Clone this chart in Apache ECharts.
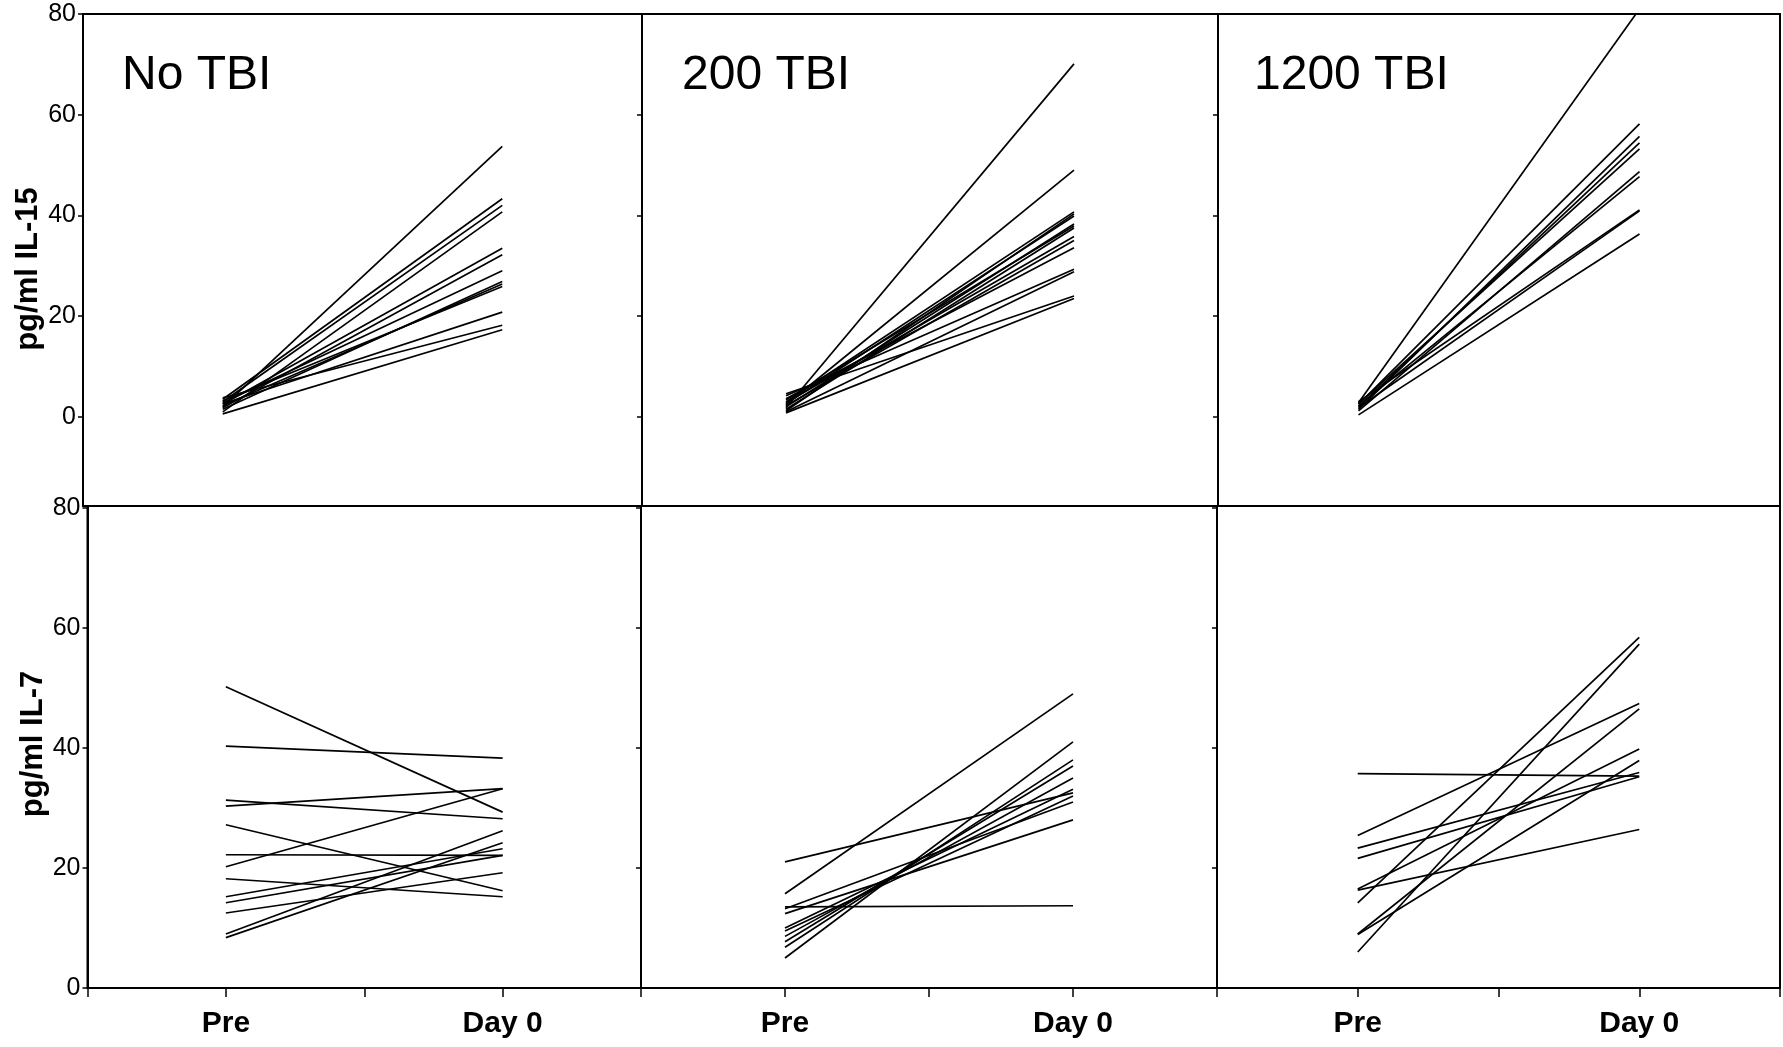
<!DOCTYPE html>
<html>
<head>
<meta charset="utf-8">
<script src="https://cdn.jsdelivr.net/npm/echarts@6/dist/echarts.min.js"></script>
<style>
  html, body { margin: 0; padding: 0; background: #fff; }
  #chart { width: 1783px; height: 1047px; }
</style>
</head>
<body>
<div id="chart"></div>
<script>
// ---- data ----
const xLabels = ['', 'Pre', '', 'Day 0', ''];
const groupTitles = ['No TBI', '200 TBI', '1200 TBI'];
const yTitles = ['pg/ml IL-15', 'pg/ml IL-7'];
const yTicks = [0, 20, 40, 60, 80];

// IL-15, No TBI
const il15NoPre  = [2.0, 3.5, 3.0, 1.0, 2.5, 1.8, 2.8, 1.5, 2.2, 3.2, 2.6, 3.8, 0.6];
const il15NoDay0 = [53.7, 43.3, 42.0, 40.7, 33.5, 32.2, 29.0, 26.9, 26.4, 25.9, 20.8, 18.2, 17.3];
// IL-15, 200 TBI
const il15T200Pre  = [1.8, 2.4, 3.0, 1.2, 2.6, 2.0, 3.4, 1.5, 2.8, 2.2, 3.6, 4.2, 1.0, 4.6, 0.8];
const il15T200Day0 = [70.1, 49.0, 40.7, 40.3, 39.9, 38.3, 37.9, 37.5, 35.8, 35.0, 33.6, 29.3, 28.8, 24.0, 23.5];
// IL-15, 1200 TBI
const il15T1200Pre  = [2.8, 2.5, 1.5, 2.0, 2.6, 1.2, 2.2, 3.0, 1.8, 0.4];
const il15T1200Day0 = [81.0, 58.2, 55.7, 54.4, 53.2, 48.7, 47.7, 41.1, 40.9, 36.3];
// IL-7, No TBI
const il7NoPre  = [50.2, 40.3, 31.3, 30.3, 27.2, 20.2, 22.2, 18.2, 15.2, 14.2, 12.5, 9.0, 8.4];
const il7NoDay0 = [29.3, 38.3, 28.2, 33.2, 16.2, 33.2, 22.1, 15.2, 23.2, 22.1, 19.2, 26.2, 24.2];
// IL-7, 200 TBI
const il7T200Pre  = [15.7, 21.0, 13.5, 12.4, 13.2, 10.0, 9.5, 8.6, 7.7, 6.8, 5.0];
const il7T200Day0 = [49.0, 32.5, 13.7, 28.0, 31.0, 33.1, 32.0, 35.0, 37.0, 38.0, 41.0];
// IL-7, 1200 TBI
const il7T1200Pre  = [35.7, 25.4, 23.3, 21.6, 16.5, 16.3, 14.2, 9.0, 8.9, 6.0];
const il7T1200Day0 = [35.3, 47.4, 35.9, 35.2, 39.8, 26.4, 58.4, 46.5, 37.9, 57.3];

const panels = [
  { pre: il15NoPre,    day0: il15NoDay0 },
  { pre: il15T200Pre,  day0: il15T200Day0 },
  { pre: il15T1200Pre, day0: il15T1200Day0 },
  { pre: il7NoPre,     day0: il7NoDay0 },
  { pre: il7T200Pre,   day0: il7T200Day0 },
  { pre: il7T1200Pre,  day0: il7T1200Day0 }
];

// ---- layout ----
const colEdgesByRow = [[83, 642, 1218, 1780], [87.5, 641, 1217, 1780]];
const rowEdges = [14, 506, 988];
const FONT = '"Liberation Sans", Arial, Helvetica, sans-serif';

const grids = [], xAxes = [], yAxes = [], series = [];
for (let r = 0; r < 2; r++) {
  const colEdges = colEdgesByRow[r];
  for (let c = 0; c < 3; c++) {
    const i = r * 3 + c;
    grids.push({
      left: colEdges[c], width: colEdges[c + 1] - colEdges[c],
      top: rowEdges[r], height: rowEdges[r + 1] - rowEdges[r],
      show: true, borderColor: '#000', borderWidth: 2, backgroundColor: 'transparent'
    });
    xAxes.push({
      type: 'value', gridIndex: i, min: 0, max: 4, interval: 1,
      axisLine: { show: true, onZero: false, lineStyle: { color: '#000', width: 2 } },
      axisTick: { show: r === 1, inside: false, length: 9, lineStyle: { color: '#000', width: 1.5 } },
      axisLabel: {
        show: r === 1, margin: 21, color: '#000', fontFamily: FONT, fontSize: 30, fontWeight: 'bold',
        formatter: v => xLabels[Math.round(v)] || ''
      },
      splitLine: { show: false }
    });
    yAxes.push({
      type: 'value', gridIndex: i,
      min: r === 0 ? -17.7 : 0, max: r === 0 ? 80 : 80.3,
      axisLine: { show: true, onZero: false, lineStyle: { color: '#000', width: 2 } },
      axisTick: { show: true, inside: false, length: 5, customValues: yTicks, lineStyle: { color: '#000', width: 1.5 } },
      axisLabel: { show: c === 0, customValues: yTicks, margin: 7, color: '#000', fontFamily: FONT, fontSize: 25 },
      splitLine: { show: false },
      name: c === 0 ? yTitles[r] : '',
      nameLocation: 'middle', nameRotate: 90, nameGap: 38,
      nameTextStyle: { color: '#000', fontFamily: FONT, fontSize: 31, fontWeight: 'bold',
                       padding: r === 0 ? [0, 18, 0, 0] : [0, 0, 0, 6] }
    });
    const p = panels[i];
    for (let k = 0; k < p.pre.length; k++) {
      series.push({
        type: 'line', xAxisIndex: i, yAxisIndex: i,
        data: [[1, p.pre[k]], [3, p.day0[k]]],
        symbol: 'none', silent: true, clip: true,
        lineStyle: { color: '#000', width: 1.7 }
      });
    }
  }
}

const titleX = [122, 682, 1254];
const graphics = groupTitles.map((t, c) => ({
  type: 'text', left: titleX[c], top: 52,
  style: { text: t, fill: '#000', font: '48px ' + FONT }
}));

const chart = echarts.init(document.getElementById('chart'), null, { renderer: 'canvas' });
chart.setOption({
  animation: false,
  backgroundColor: '#fff',
  grid: grids, xAxis: xAxes, yAxis: yAxes, series: series,
  graphic: graphics
});
</script>
</body>
</html>
